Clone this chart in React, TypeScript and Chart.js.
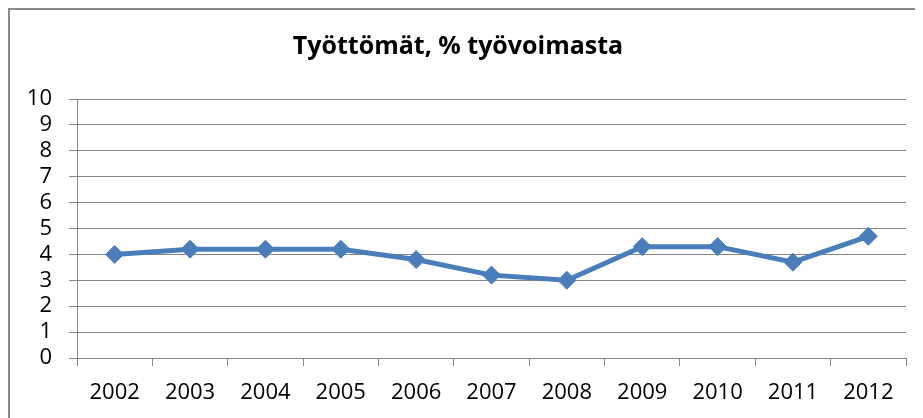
import React, { useEffect, useRef } from "react";
import { Chart, registerables } from "chart.js";

Chart.register(...registerables);

const categories: string[] = ["2002", "2003", "2004", "2005", "2006", "2007", "2008", "2009", "2010", "2011", "2012"];
const unemployment: number[] = [4.0, 4.2, 4.2, 4.2, 3.8, 3.2, 3.0, 4.3, 4.3, 3.7, 4.7];
const yTicks: number[] = [0, 1, 2, 3, 4, 5, 6, 7, 8, 9, 10];
const titleText = "Työttömät, % työvoimasta";

const FONT = "'Open Sans', Lato, sans-serif";
const GRID = "#868686";
const LINE = "#4A7EBB";

export default function App() {
  const ref = useRef<HTMLCanvasElement | null>(null);

  useEffect(() => {
    if (!ref.current) return;
    const chart = new Chart(ref.current, {
      type: "line",
      data: {
        labels: categories,
        datasets: [
          {
            data: unemployment,
            borderColor: LINE,
            backgroundColor: LINE,
            borderWidth: 5,
            pointStyle: "rectRot",
            pointRadius: 9,
            pointBorderWidth: 1,
            pointBackgroundColor: LINE,
            pointBorderColor: LINE,
            tension: 0,
          },
        ],
      },
      options: {
        responsive: false,
        animation: false,
        layout: { padding: { left: 0, right: 17, top: 0, bottom: 0 } },
        plugins: {
          legend: { display: false },
          tooltip: { enabled: false },
          title: {
            display: true,
            text: titleText,
            color: "#000",
            font: { family: FONT, size: 25, weight: "bold", lineHeight: 1.2 },
            padding: { top: 22, bottom: 37 },
          },
        },
        scales: {
          x: {
            offset: true,
            grid: {
              offset: true,
              drawOnChartArea: false,
              drawTicks: true,
              tickLength: 8,
              color: GRID,
              lineWidth: 1,
            },
            border: { display: true, color: GRID, width: 1 },
            ticks: {
              color: "#000",
              font: { family: FONT, size: 22 },
              padding: 14,
              maxRotation: 0,
              autoSkip: false,
            },
            afterFit: (s: any) => {
              s.height = 60;
            },
          },
          y: {
            min: 0,
            max: 10,
            afterBuildTicks: (s: any) => {
              s.ticks = yTicks.map((v) => ({ value: v }));
            },
            grid: {
              color: GRID,
              lineWidth: 1,
              tickLength: 8,
              drawTicks: true,
            },
            border: { display: true, color: GRID, width: 1 },
            ticks: {
              color: "#000",
              font: { family: FONT, size: 22 },
              padding: 17,
              autoSkip: false,
            },
            afterFit: (s: any) => {
              s.width = 67;
            },
          },
        },
      },
    });
    return () => chart.destroy();
  }, []);

  return (
    <div
      style={{
        boxSizing: "border-box",
        width: 915,
        height: 410,
        borderTop: "2px solid #898989",
        borderLeft: "2px solid #898989",
        background: "#fff",
      }}
    >
      <canvas ref={ref} width={913} height={408} style={{ display: "block" }} />
    </div>
  );
}
